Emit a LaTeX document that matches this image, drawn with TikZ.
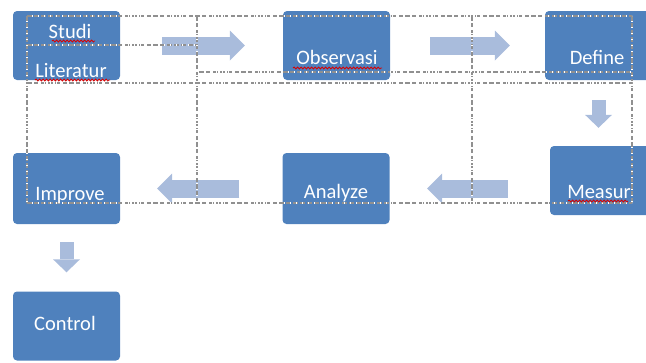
\documentclass[tikz,border=0pt]{standalone}
\usepackage{fontspec}
\setmainfont{Carlito}
\usetikzlibrary{arrows.meta, positioning, decorations.pathmorphing}
\definecolor{boxblue}{HTML}{4F81BD}
\definecolor{arrowblue}{HTML}{A9BCDC}
\definecolor{gridgray}{HTML}{909090}

\begin{document}
\begin{tikzpicture}[
  x=1pt, y=-1pt,
  every node/.style={inner sep=0pt},
  box/.style={fill=boxblue, rounded corners=4pt, minimum width=107pt, minimum height=69pt},
  boxtext/.style={text=white, font=\fontsize{20.5}{24}\selectfont, anchor=base},
  flow/.style={arrowblue, line width=18pt, -{Triangle[length=15pt, width=30pt, line width=0pt]}},
  flowdown/.style={arrowblue, line width=14pt, -{Triangle[length=13pt, width=27pt, line width=0pt]}},
  gridline/.style={gridgray, line width=1.5pt, dash pattern=on 4.5pt off 2.5pt},
  griddots/.style={white, line width=1.5pt, dash pattern=on 1pt off 5pt, dash phase=-5pt},
  squiggle/.style={red!85!black, line width=0.8pt, decorate, decoration={snake, amplitude=1pt, segment length=3.5pt}}
]
\useasboundingbox (0,0) rectangle (646,362);
\clip (0,0) rectangle (646,362);

% process boxes
\node[box] (studi) at (66.5,45.5) {};
\node[box] (obs) at (336.5,45.5) {};
\node[box] (define) at (598.5,45.5) {};
\node[box] (measur) at (603.5,180.5) {};
\node[box, minimum height=71pt] (analyze) at (336,188.5) {};
\node[box, minimum height=71pt] (improve) at (66.5,188.5) {};
\node[box] (control) at (66.5,326) {};

% block arrows between the steps
\draw[flow, shorten <=42pt, shorten >=38pt] (studi) -- (obs);
\draw[flow, shorten <=40pt, shorten >=35pt] (obs) -- (define);
\draw[flowdown, shorten <=20pt, shorten >=18pt] (define.south) -- (define.south |- measur.north);
\draw[flow, shorten <=42pt, shorten >=37.5pt] (measur.west |- analyze.east) -- (analyze.east);
\draw[flow, shorten <=43pt, shorten >=37pt] (analyze) -- (improve);
\draw[flowdown, shorten <=18pt, shorten >=19pt] (improve) -- (control);

% dashed table lines over the chart
\draw[gridline] (27,16) -- (632,16) (27,83) -- (632,83) (27,203) -- (632,203)
  (27,45) -- (197,45) (199,72) -- (632,72)
  (27,16) -- (27,203) (197,16) -- (197,203) (472,16) -- (472,203) (632,16) -- (632,203);
\draw[griddots] (27,16) -- (632,16) (27,83) -- (632,83) (27,203) -- (632,203)
  (27,45) -- (197,45) (199,72) -- (632,72)
  (27,16) -- (27,203) (197,16) -- (197,203) (472,16) -- (472,203) (632,16) -- (632,203);

% labels
\node[boxtext] (studi-a) at (70,38) {Studi};
\node[boxtext] (studi-b) at (71,77) {Literatur};
\node[boxtext] (obs-t) at (337,64) {Observasi};
\node[boxtext] (define-t) at (597,64) {Define};
\node[boxtext] (measur-t) at (599,198) {Measur};
\node[boxtext] (analyze-t) at (336,198) {Analyze};
\node[boxtext] (improve-t) at (70,200) {Improve};
\node[boxtext] (control-t) at (65,330) {Control};

% spell-check marks
\draw[squiggle] (52,41) -- (95,41);
\draw[squiggle] (35,80) -- (110,80);
\draw[squiggle] (293,68) -- (382,68);
\draw[squiggle] (568,201) -- (628,201);

\end{tikzpicture}
\end{document}
